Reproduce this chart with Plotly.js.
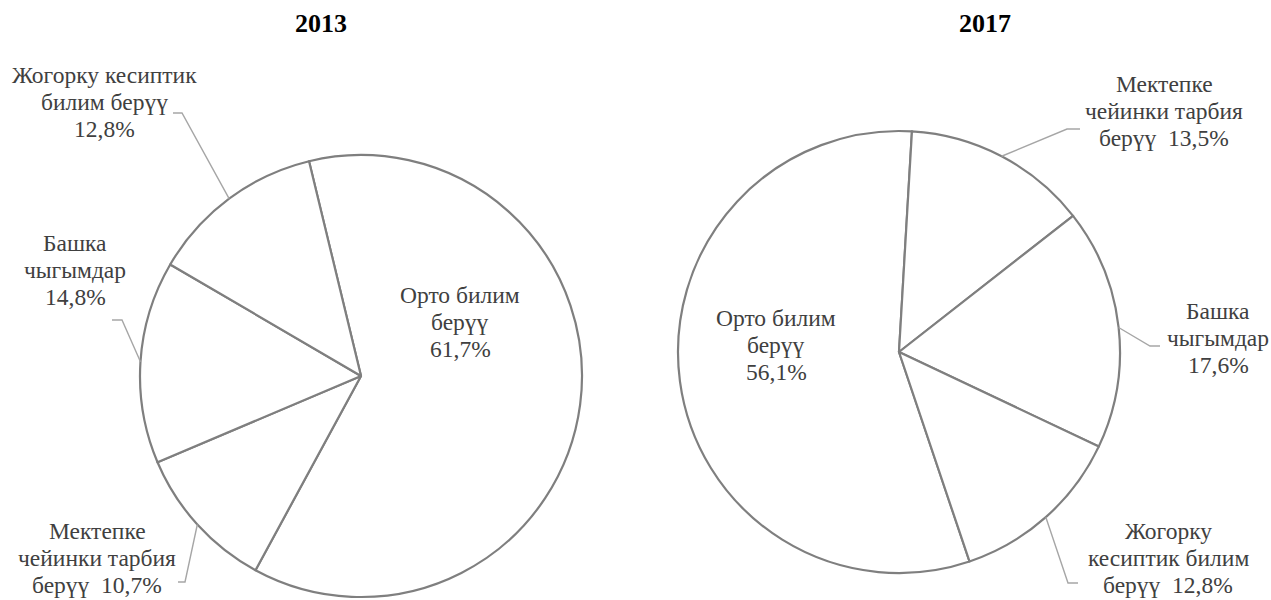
<!DOCTYPE html>
<html>
<head>
<meta charset="utf-8">
<script src="https://cdn.plot.ly/plotly-3.0.1.min.js"></script>
<style>html,body{margin:0;padding:0;background:#fff;}#chart{width:1271px;height:600px;}</style>
</head>
<body>
<div id="chart"></div>
<script>
// ---- data ----
const years = ['2013', '2017'];
const categories = ['Орто билим берүү', 'Мектепке чейинки тарбия берүү', 'Башка чыгымдар', 'Жогорку кесиптик билим берүү'];
const values2013 = [61.7, 10.7, 14.8, 12.8];
const values2017 = [56.1, 13.5, 17.6, 12.8];
const nameLines2013 = [['Орто билим', 'берүү'], ['Мектепке', 'чейинки тарбия', 'берүү'], ['Башка', 'чыгымдар'], ['Жогорку кесиптик', 'билим берүү']];
const nameLines2017 = [['Орто билим', 'берүү'], ['Мектепке', 'чейинки тарбия', 'берүү'], ['Башка', 'чыгымдар'], ['Жогорку', 'кесиптик билим', 'берүү']];

// ---- layout config (pixels) ----
const W = 1271, H = 600;
const FONT = 'Liberation Serif, Times New Roman, serif';
const LINE_H = 26.7;
const pies = [
  { values: values2013, names: nameLines2013, cx: 361, cy: 376, r: 221, rotation: -13.6, title: {x: 321, y: 23},
    labels: [
      {x: 460, y: 322, inline: false},
      {x: 97, y: 558, inline: true, elbow: [185, 582], end: [178, 582]},
      {x: 75, y: 270, inline: false, elbow: [122, 320], end: [112, 320]},
      {x: 104, y: 102, inline: false, elbow: [182, 113], end: [173, 113]}
    ]},
  { values: values2017, names: nameLines2017, cx: 899, cy: 352, r: 221, rotation: 161.4, title: {x: 985, y: 23},
    labels: [
      {x: 776, y: 345, inline: false},
      {x: 1164, y: 111, inline: true, elbow: [1067, 129], end: [1080, 129]},
      {x: 1218, y: 338, inline: false, elbow: [1150, 346], end: [1160, 346]},
      {x: 1168, y: 558, inline: true, elbow: [1068, 583], end: [1078, 583]}
    ]}
];

const px2x = p => p / W;
const px2y = p => 1 - p / H;
const fmt = v => v.toFixed(1).replace('.', ',') + '%';

const traces = [];
const annotations = [];
const shapes = [];

pies.forEach((p, k) => {
  traces.push({
    type: 'pie',
    values: p.values,
    labels: categories,
    sort: false,
    direction: 'clockwise',
    rotation: p.rotation,
    textinfo: 'none',
    hoverinfo: 'label+percent',
    showlegend: false,
    marker: { colors: categories.map(() => '#ffffff'), line: { color: '#7f7f7f', width: 2.2 } },
    domain: { x: [px2x(p.cx - p.r), px2x(p.cx + p.r)], y: [px2y(p.cy + p.r), px2y(p.cy - p.r)] }
  });

  annotations.push({
    xref: 'paper', yref: 'paper', x: px2x(p.title.x), y: px2y(p.title.y),
    xanchor: 'center', yanchor: 'middle', showarrow: false,
    text: '<b>' + years[k] + '</b>', font: { family: FONT, size: 26, color: '#000000' }
  });

  const total = p.values.reduce((a, b) => a + b, 0);
  let cum = 0;
  p.values.forEach((v, i) => {
    const mid = (p.rotation + (cum + v / 2) / total * 360) * Math.PI / 180;
    cum += v;
    const L = p.labels[i];
    const lines = p.names[i].slice();
    if (L.inline) lines[lines.length - 1] = lines[lines.length - 1] + '\u00a0 ' + fmt(v);
    else lines.push(fmt(v));
    const y0 = L.y - (lines.length - 1) * LINE_H / 2;
    lines.forEach((t, j) => {
      annotations.push({
        xref: 'paper', yref: 'paper', x: px2x(L.x), y: px2y(y0 + j * LINE_H),
        xanchor: 'center', yanchor: 'middle', showarrow: false,
        text: t, font: { family: FONT, size: 23.5, color: '#404040' }
      });
    });
    if (L.elbow) {
      const ax = p.cx + p.r * Math.sin(mid);
      const ay = p.cy - p.r * Math.cos(mid);
      shapes.push({
        type: 'path', xref: 'paper', yref: 'paper',
        path: 'M ' + px2x(ax) + ',' + px2y(ay) + ' L ' + px2x(L.elbow[0]) + ',' + px2y(L.elbow[1]) + ' L ' + px2x(L.end[0]) + ',' + px2y(L.end[1]),
        line: { color: '#a6a6a6', width: 1.4 }
      });
    }
  });
});

Plotly.newPlot('chart', traces, {
  width: W, height: H,
  margin: { l: 0, r: 0, t: 0, b: 0 },
  paper_bgcolor: '#ffffff', plot_bgcolor: '#ffffff',
  showlegend: false,
  annotations: annotations,
  shapes: shapes
}, { displayModeBar: false, staticPlot: true });
</script>
</body>
</html>
